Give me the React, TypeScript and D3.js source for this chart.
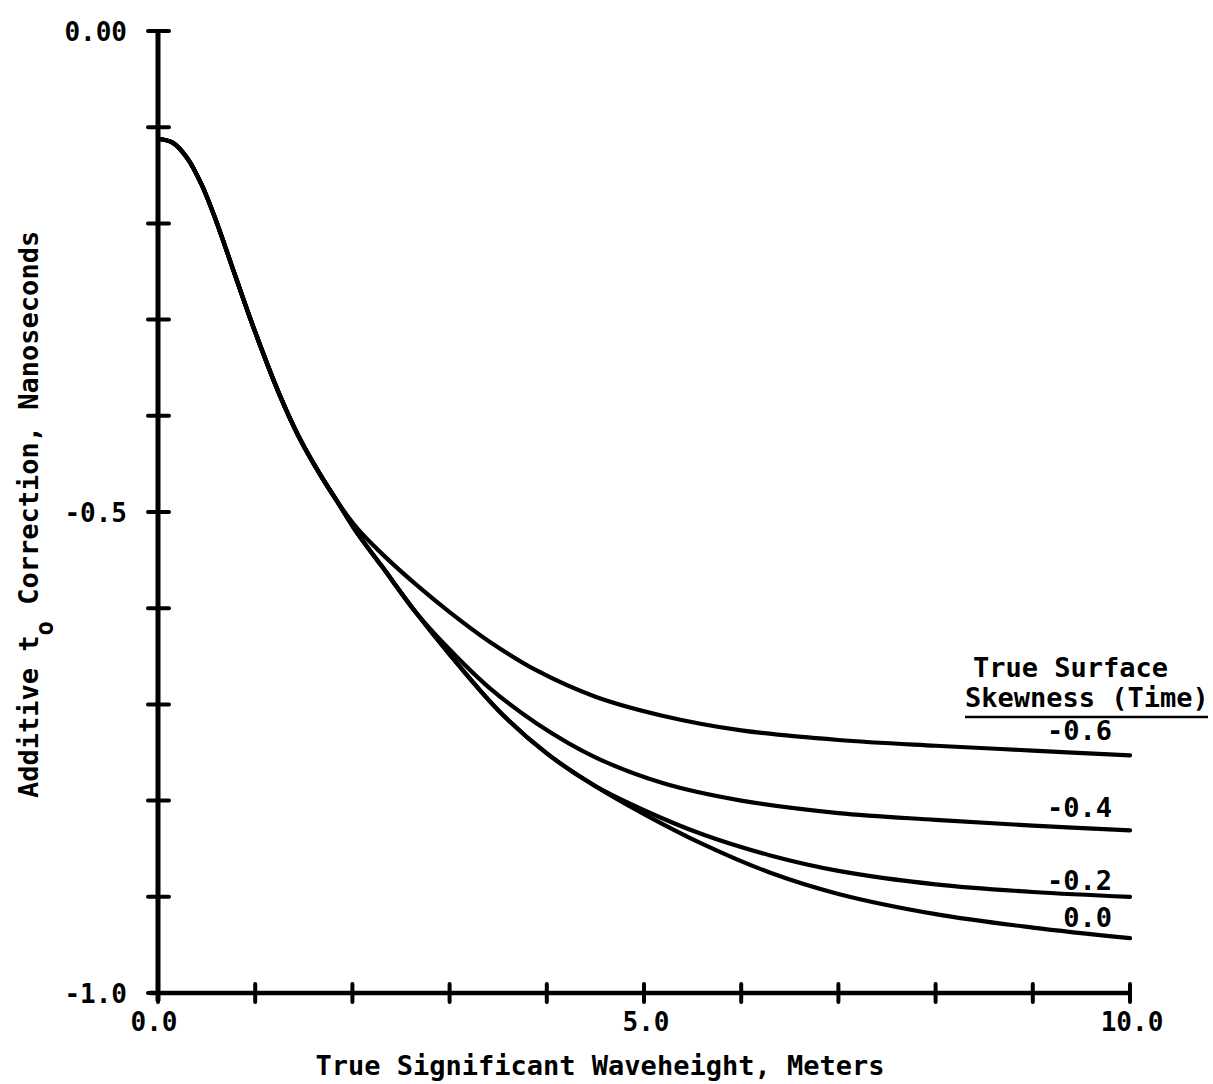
import React from "react";
import * as d3 from "d3";

const WIDTH = 1213;
const HEIGHT = 1084;

// Common initial portion shared by every skewness curve (waveheight m, correction ns)
const headWave = [0, 0.15, 0.3, 0.45, 0.6, 0.8, 1.0, 1.25, 1.45, 1.65, 1.85];
const headCorr = [-0.112, -0.116, -0.132, -0.160, -0.198, -0.256, -0.313, -0.378, -0.422, -0.458, -0.490];

// Skewness categories
const skewness = ["-0.6", "-0.4", "-0.2", "0.0"];

// Tails after the curves separate
const waveM06 = [2.05, 2.3, 2.65, 3.0, 3.4, 3.9, 4.5, 5.2, 6.0, 7.0, 8.0, 9.0, 10];
const corrM06 = [-0.517, -0.543, -0.575, -0.604, -0.634, -0.665, -0.692, -0.712, -0.727, -0.737, -0.743, -0.748, -0.753];

const waveM04 = [2.05, 2.3, 2.65, 3.0, 3.4, 3.9, 4.5, 5.2, 6.0, 7.0, 8.0, 9.0, 10];
const corrM04 = [-0.522, -0.556, -0.604, -0.643, -0.682, -0.720, -0.755, -0.782, -0.800, -0.813, -0.820, -0.826, -0.831];

const waveM02 = [2.05, 2.3, 2.65, 3.0, 3.5, 4.0, 4.5, 5.0, 5.6, 6.3, 7.0, 8.0, 9.0, 10];
const corrM02 = [-0.522, -0.556, -0.604, -0.648, -0.706, -0.751, -0.785, -0.810, -0.835, -0.857, -0.873, -0.887, -0.895, -0.900];

const waveZero = [2.05, 2.3, 2.65, 3.0, 3.5, 4.0, 4.5, 5.0, 5.6, 6.3, 7.0, 8.0, 9.0, 10];
const corrZero = [-0.522, -0.556, -0.604, -0.648, -0.706, -0.751, -0.785, -0.814, -0.845, -0.875, -0.897, -0.918, -0.932, -0.943];

const tailWaves = [waveM06, waveM04, waveM02, waveZero];
const tailCorrs = [corrM06, corrM04, corrM02, corrZero];

// Axis ticks and labels
const xTicks = [0, 1, 2, 3, 4, 5, 6, 7, 8, 9, 10];
const xTickLabels = [
  { v: 0, text: "0.0" },
  { v: 5, text: "5.0" },
  { v: 10, text: "10.0" },
];
const yTicks = [0, -0.1, -0.2, -0.3, -0.4, -0.5, -0.6, -0.7, -0.8, -0.9, -1.0];
const yTickLabels = [
  { v: 0, text: "0.00" },
  { v: -0.5, text: "-0.5" },
  { v: -1.0, text: "-1.0" },
];

const FONT = "'DejaVu Sans Mono', 'Liberation Mono', monospace";
const INK = "#000";

// Vertical lift of each curve's label above its end point
const labelLift = [15, 13, 7, 11];

export default function App() {
  const x = d3.scaleLinear().domain([0, 10]).range([158, 1130]);
  const y = d3.scaleLinear().domain([-1, 0]).range([993, 31]);

  const series = skewness.map((name, i) => {
    const pts: [number, number][] = headWave.map((w, j) => [w, headCorr[j]]);
    tailWaves[i].forEach((w, j) => pts.push([w, tailCorrs[i][j]]));
    return { name, pts };
  });

  const line = d3
    .line<[number, number]>()
    .x((d) => x(d[0]))
    .y((d) => y(d[1]))
    .curve(d3.curveCatmullRom.alpha(0.5));

  const x0 = x(0);
  const yBottom = y(-1);

  return (
    <svg
      width={WIDTH}
      height={HEIGHT}
      style={{ position: "absolute", left: 0, top: 0, background: "#fff" }}
    >
      <rect x={0} y={0} width={WIDTH} height={HEIGHT} fill="#fff" />

      {/* Y axis */}
      <line x1={x0} x2={x0} y1={y(0)} y2={yBottom + 8} stroke={INK} strokeWidth={5} />
      {yTicks.map((t) => (
        <line key={"yt" + t} x1={x0 - 10} x2={x0 + 11} y1={y(t)} y2={y(t)} stroke={INK} strokeWidth={4} strokeLinecap="round" />
      ))}
      {yTickLabels.map((t) => (
        <text key={"yl" + t.v} x={127} y={y(t.v) + 10} textAnchor="end" fontFamily={FONT} fontWeight="bold" fontSize={26} fill={INK}>
          {t.text}
        </text>
      ))}

      {/* X axis */}
      <line x1={x0 - 8} x2={x(10)} y1={yBottom} y2={yBottom} stroke={INK} strokeWidth={4.5} />
      {xTicks.map((t) => (
        <line key={"xt" + t} x1={x(t)} x2={x(t)} y1={yBottom - 9} y2={yBottom + 9} stroke={INK} strokeWidth={4} strokeLinecap="round" />
      ))}
      {xTickLabels.map((t) => (
        <text key={"xl" + t.v} x={x(t.v) + (t.v === 0 ? -4 : 2)} y={1031} textAnchor="middle" fontFamily={FONT} fontWeight="bold" fontSize={26} fill={INK}>
          {t.text}
        </text>
      ))}

      {/* Axis titles */}
      <text x={600} y={1075} textAnchor="middle" fontFamily={FONT} fontWeight="bold" fontSize={27} fill={INK}>
        True Significant Waveheight, Meters
      </text>
      <text
        transform="translate(38,798) rotate(-90)"
        textAnchor="start"
        fontFamily={FONT}
        fontWeight="bold"
        fontSize={27}
        fill={INK}
      >
        <tspan>Additive t</tspan>
        <tspan fontSize={24} dy={15}>o</tspan>
        <tspan dy={-15}> Correction, Nanoseconds</tspan>
      </text>

      {/* Curves */}
      {series.map((s) => (
        <path key={s.name} d={line(s.pts) || ""} fill="none" stroke={INK} strokeWidth={4.2} strokeLinejoin="round" strokeLinecap="round" />
      ))}

      {/* Legend heading */}
      <text x={973} y={677} fontFamily={FONT} fontWeight="bold" fontSize={27} fill={INK}>
        True Surface
      </text>
      <text x={965} y={707} fontFamily={FONT} fontWeight="bold" fontSize={27} fill={INK}>
        Skewness (Time)
      </text>
      <line x1={965} x2={1208} y1={717} y2={717} stroke={INK} strokeWidth={2.5} />

      {/* Curve labels */}
      {series.map((s, i) => {
        const end = s.pts[s.pts.length - 1];
        return (
          <text key={"lab" + s.name} x={1112} y={y(end[1]) - labelLift[i]} textAnchor="end" fontFamily={FONT} fontWeight="bold" fontSize={27} fill={INK}>
            {s.name}
          </text>
        );
      })}
    </svg>
  );
}
